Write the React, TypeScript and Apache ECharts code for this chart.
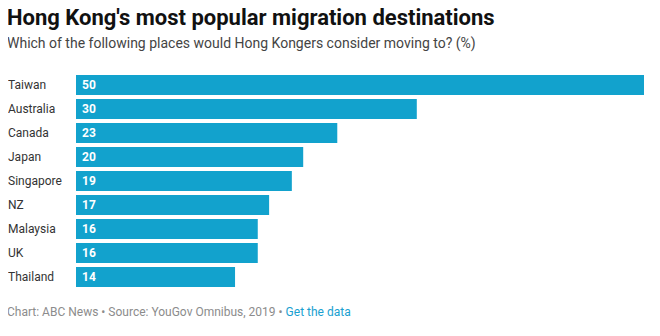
import React, { useEffect, useRef } from "react";
import * as echarts from "echarts";

const categories = ["Taiwan", "Australia", "Canada", "Japan", "Singapore", "NZ", "Malaysia", "UK", "Thailand"];
const values = [50, 30, 23, 20, 19, 17, 16, 16, 14];
const titleText = "Hong Kong's most popular migration destinations";
const subtitleText = "Which of the following places would Hong Kongers consider moving to? (%)";
const footerSource = "Chart: ABC News \u2022 Source: YouGov Omnibus, 2019 \u2022 ";
const footerLink = "Get the data";

const FONT = "Roboto, 'Noto Sans', sans-serif";

export default function App() {
  const ref = useRef<HTMLDivElement>(null);
  useEffect(() => {
    if (!ref.current) return;
    const chart = echarts.init(ref.current, undefined, { renderer: "svg" });
    chart.setOption({
      animation: false,
      textStyle: { fontFamily: FONT },
      graphic: [
        {
          type: "text",
          left: 7,
          top: 6,
          style: { text: titleText, font: `bold 22px ${FONT}`, fill: "#111" },
        },
        {
          type: "text",
          left: 7,
          top: 36,
          style: { text: subtitleText, font: `14px ${FONT}`, fill: "#444" },
        },
        {
          type: "text",
          left: 7,
          top: 306,
          style: {
            text: `{a|${footerSource}}{b|${footerLink}}`,
            rich: {
              a: { font: `12px ${FONT}`, fill: "#8c8c8c" },
              b: { font: `12px ${FONT}`, fill: "#1a9fd0" },
            },
          },
        },
      ],
      grid: { left: 76, right: 16, top: 73, height: 216, containLabel: false },
      xAxis: {
        type: "value",
        min: 0,
        max: 50,
        show: false,
      },
      yAxis: {
        type: "category",
        data: categories,
        inverse: true,
        axisLine: { show: false },
        axisTick: { show: false },
        axisLabel: {
          align: "left",
          margin: 68,
          color: "#333",
          fontSize: 12,
          fontFamily: FONT,
        },
      },
      series: [
        {
          type: "bar",
          data: values,
          barWidth: 20,
          itemStyle: { color: "#12a2cd" },
          label: {
            show: true,
            position: "insideLeft",
            distance: 6,
            color: "#fff",
            fontWeight: "bold",
            fontSize: 12,
            fontFamily: FONT,
          },
        },
      ],
    });
    return () => chart.dispose();
  }, []);
  return <div ref={ref} style={{ width: 660, height: 336, margin: -8 }} />;
}
